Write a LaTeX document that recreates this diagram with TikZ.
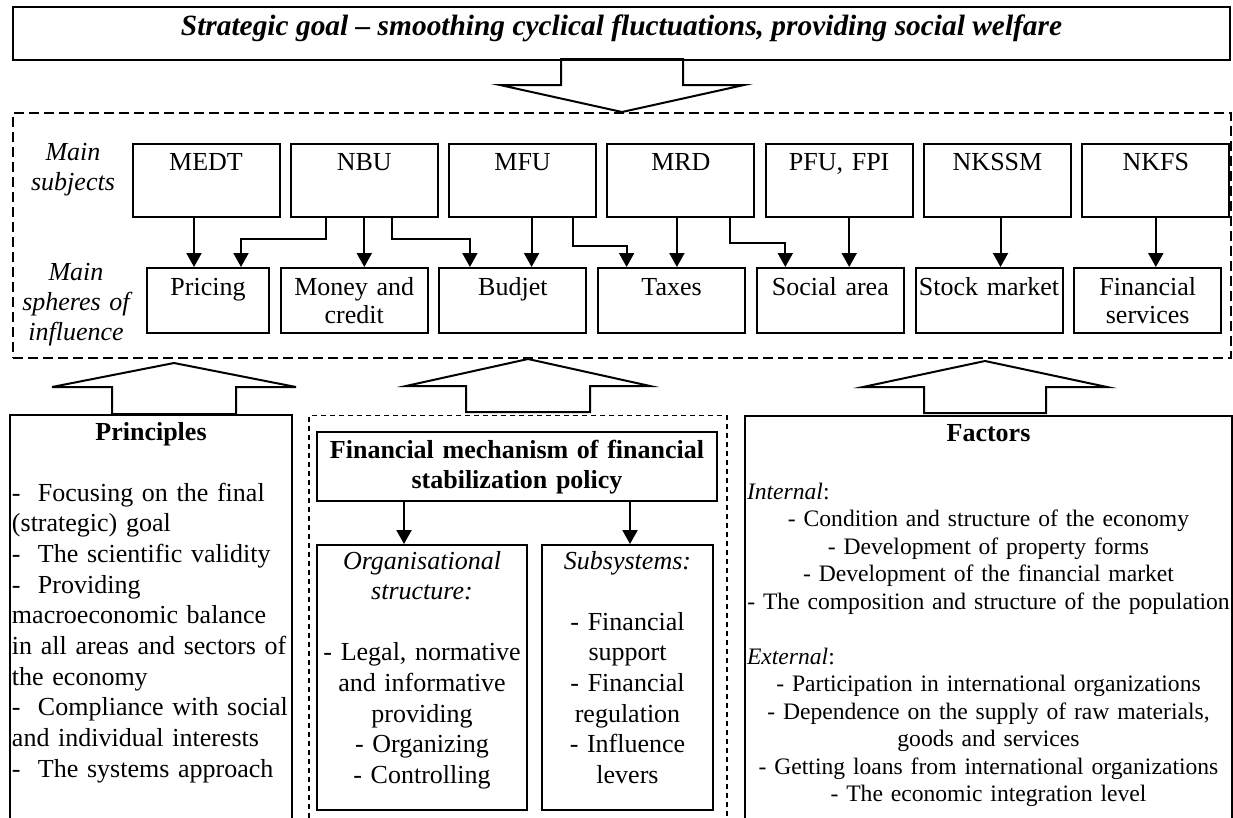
\documentclass[tikz,border=0pt]{standalone}
\usepackage{fontspec}
\setmainfont{Liberation Serif}
\usetikzlibrary{shapes, arrows.meta, calc, positioning}
\tikzstyle{goalbox} = [rectangle, draw, line width=2pt, minimum width=1217pt, inner sep=0pt, text height=28pt, text depth=25pt, font=\fontsize{29.4pt}{32pt}\selectfont\bfseries\itshape]
\tikzstyle{dashframe} = [rectangle, draw, line width=2pt, dash pattern=on 10pt off 5pt, inner sep=0pt]
\tikzstyle{subject} = [rectangle, draw, line width=2pt, text width=143pt, align=center, inner xsep=2pt, inner ysep=6pt, text height=20pt, text depth=41pt, font=\fontsize{26pt}{28pt}\selectfont]
\tikzstyle{sphere} = [subject, text height=21pt, text depth=32pt]
\tikzstyle{rowlabel} = [text width=120pt, align=center, inner sep=0pt, anchor=base, font=\fontsize{26pt}{30pt}\selectfont\itshape]
\tikzstyle{line} = [draw, line width=2pt, -{Triangle[length=14pt, width=15pt]}]
\tikzstyle{bigarrow} = [draw, line width=2pt, line join=miter]
\tikzstyle{panel} = [rectangle, draw, line width=2pt, anchor=north, inner xsep=2pt, inner ysep=4pt, text height=21pt]
\tikzstyle{mechframe} = [rectangle, draw, line width=1.2pt, dash pattern=on 5pt off 4pt, inner sep=0pt]
\tikzstyle{mechbox} = [rectangle, draw, line width=2pt, align=center, inner xsep=2pt, inner ysep=4pt, font=\fontsize{26pt}{30.6pt}\selectfont]

\begin{document}
\begin{tikzpicture}[x=1pt, y=-1pt]
        \useasboundingbox (0,0) rectangle (1233,817);

        \node[goalbox] (goal) at (621.5,33.5) {Strategic goal -- smoothing cyclical fluctuations, providing social welfare};

        \node[dashframe, minimum width=1218pt, minimum height=245pt] (frame) at (622,235.5) {};
        \draw[bigarrow] (frame.north) -- ++(122,-27) -- ++(-61,0) -- ++(0,-26) -- ++(-122,0) -- ++(0,26) -- ++(-61,0) -- cycle;

        \node[rowlabel] (subjlabel) at (73,160) {Main\\subjects};
        \node[rowlabel] (spherelabel) at (76,280) {Main\\spheres of\\influence};

        \node[subject] (medt) at (206,180.5) {MEDT};
        \node[subject, right=9.3pt of medt] (nbu) {NBU};
        \node[subject, right=9.3pt of nbu] (mfu) {MFU};
        \node[subject, right=9.3pt of mfu] (mrd) {MRD};
        \node[subject, right=9.3pt of mrd] (pfu) {PFU, FPI};
        \node[subject, right=9.3pt of pfu] (nkssm) {NKSSM};
        \node[subject, right=9.3pt of nkssm] (nkfs) {NKFS};

        \node[sphere, text width=118pt] (pricing) at (208,300.5) {Pricing};
        \node[sphere, right=9.7pt of pricing] (money) {Money and\\credit};
        \node[sphere, right=9.7pt of money] (budjet) {Budjet};
        \node[sphere, right=9.7pt of budjet] (taxes) {Taxes};
        \node[sphere, right=9.7pt of taxes] (social) {Social area};
        \node[sphere, right=9.7pt of social] (stock) {Stock market};
        \node[sphere, right=9.7pt of stock] (finserv) {Financial\\services};

        \path[line] ([xshift=-12pt]medt.south) -- ([xshift=-12pt]medt.south |- pricing.north);
        \path[line] ([xshift=-38pt]nbu.south) -- ++(0,21) -| ([xshift=33pt]pricing.north);
        \path[line] (nbu.south) -- (nbu.south |- money.north);
        \path[line] ([xshift=28pt]nbu.south) -- ++(0,21) -| ([xshift=-43pt]budjet.north);
        \path[line] ([xshift=9pt]mfu.south) -- ([xshift=9pt]mfu.south |- budjet.north);
        \path[line] ([xshift=50pt]mfu.south) -- ++(0,28) -| ([xshift=-45pt]taxes.north);
        \path[line] ([xshift=-4pt]mrd.south) -- ([xshift=-4pt]mrd.south |- taxes.north);
        \path[line] ([xshift=49pt]mrd.south) -- ++(0,25) -| ([xshift=-45pt]social.north);
        \path[line] ([xshift=10pt]pfu.south) -- ([xshift=10pt]pfu.south |- social.north);
        \path[line] ([xshift=3pt]nkssm.south) -- ([xshift=3pt]nkssm.south |- stock.north);
        \path[line] (nkfs.south) -- (nkfs.south |- finserv.north);

        \node[panel, text width=278pt, align=left, text depth=450pt, font=\fontsize{26pt}{30.7pt}\selectfont] (principles) at (151,414) {\makebox[\linewidth]{\bfseries Principles}\\[30.3pt]
        -~ Focusing on the final\\
        (strategic) goal\\
        -~ The scientific validity\\
        -~ Providing\\
        macroeconomic balance\\
        in all areas and sectors of\\
        the economy\\
        -~ Compliance with social\\
        and individual interests\\
        -~ The systems approach};
        \draw[bigarrow] ($(principles.north)+(23,-51)$) -- ++(122,24) -- ++(-60,0) -- ++(0,27) -- ++(-124,0) -- ++(0,-27) -- ++(-60,0) -- cycle;

        \node[mechframe, minimum width=418pt, minimum height=450pt, anchor=north] (mech) at (518,415) {};
        \draw[bigarrow] ($(mech.north)+(10,-56)$) -- ++(122,27) -- ++(-60,0) -- ++(0,26) -- ++(-124,0) -- ++(0,-26) -- ++(-60,0) -- cycle;

        \node[mechbox, text width=396pt, text height=22pt, text depth=39pt, font=\fontsize{26pt}{30.6pt}\selectfont\bfseries] (fin) at (517,466.5) {Financial mechanism of financial\\stabilization policy};
        \node[mechbox, text width=206pt, text height=20pt, text depth=237pt, below=42pt of fin.south west, anchor=north west] (org) {\textit{Organisational}\\
        \textit{structure:}\\[30.6pt]
        - Legal, normative\\
        and informative\\
        providing\\
        - Organizing\\
        - Controlling};
        \node[mechbox, text width=167pt, text height=20pt, text depth=237pt, right=13pt of org] (subsys) {\textit{Subsystems:}\\[30.6pt]
        - Financial\\
        support\\
        - Financial\\
        regulation\\
        - Influence\\
        levers};
        \path[line] ([xshift=-113pt]fin.south) -- ([xshift=-113pt]fin.south |- org.north);
        \path[line] ([xshift=113pt]fin.south) -- ([xshift=113pt]fin.south |- subsys.north);

        \node[panel, text width=483pt, align=center, text depth=450pt, font=\fontsize{23.6pt}{27.5pt}\selectfont] (factors) at (988.5,415) {{\fontsize{26pt}{27.5pt}\selectfont\bfseries Factors}\\[30.5pt]
        \makebox[\linewidth][l]{\textit{Internal}:}\\
        - Condition and structure of the economy\\
        - Development of property forms\\
        - Development of the financial market\\
        \makebox[\linewidth]{- The composition and structure of the population}\\[27.5pt]
        \makebox[\linewidth][l]{\textit{External}:}\\
        - Participation in international organizations\\
        - Dependence on the supply of raw materials,\\
        goods and services\\
        - Getting loans from international organizations\\
        - The economic integration level};
        \draw[bigarrow] ($(factors.north)+(-3.5,-54)$) -- ++(122,26) -- ++(-61,0) -- ++(0,26) -- ++(-122,0) -- ++(0,-26) -- ++(-61,0) -- cycle;
    \end{tikzpicture}
\end{document}
